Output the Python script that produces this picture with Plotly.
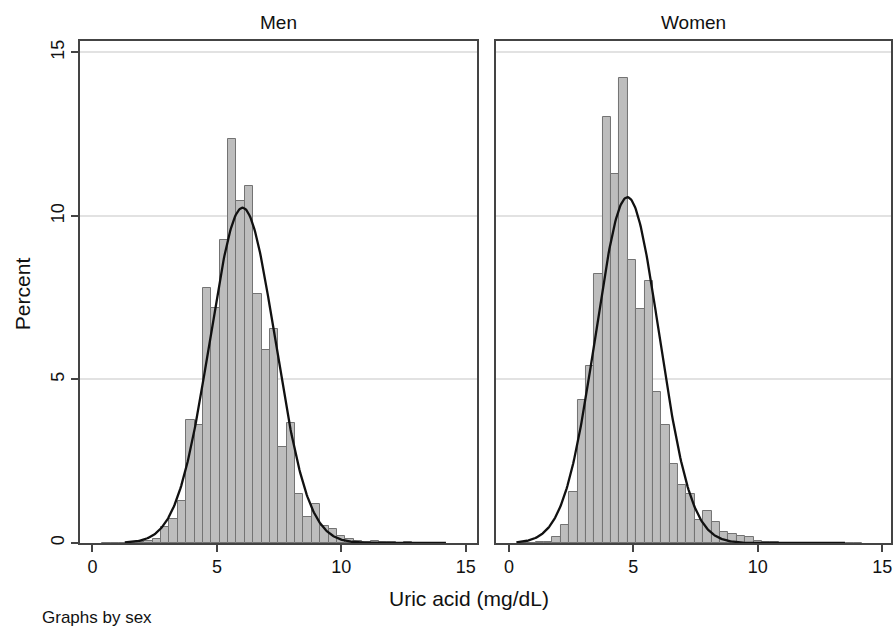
import numpy as np
import plotly.graph_objects as go

# ---------------- data ----------------
panel_titles = ["Men", "Women"]
x_title = "Uric acid (mg/dL)"
y_title = "Percent"
note_text = "Graphs by sex"
x_ticks = [0, 5, 10, 15]
y_ticks = [0, 5, 10, 15]

bin_start = 0.4
bin_width = 0.3366

men_pct = [0, 0, 0.01, 0.02, 0.03, 0.05, 0.11, 0.49, 0.74, 1.29,
           3.77, 3.61, 7.80, 7.20, 9.25, 12.34, 10.47, 10.93, 7.61, 5.90,
           6.54, 2.94, 3.66, 1.49, 0.81, 1.18, 0.52, 0.42, 0.21, 0.11,
           0.06, 0.03, 0.05, 0.02, 0.02, 0.01, 0.02, 0.01, 0.01, 0, 0.01]
women_pct = [0.01, 0, 0.02, 0.04, 0.17, 0.56, 1.56, 4.37, 5.41, 8.23,
             13.04, 11.28, 14.22, 8.65, 7.15, 8.02, 4.63, 3.60, 2.43, 1.76,
             1.50, 0.70, 0.98, 0.63, 0.35, 0.28, 0.22, 0.17, 0.05, 0.04,
             0.02, 0.01, 0.01, 0, 0.01, 0, 0, 0, 0, 0, 0]

men_mean, men_sd = 6.03, 1.31
women_mean, women_sd = 4.76, 1.27
men_curve_range = (1.3, 14.2)
women_curve_range = (0.3, 13.5)

# ---------------- figure ----------------
FONT = "Liberation Sans, Arial, Helvetica, sans-serif"
BAR_FILL = "#bdbdbd"
BAR_LINE = "#737373"
FRAME = "#444444"
GRID = "#e2e2e2"

W, H = 894, 629
ML, MR, MT, MB = 80, 1, 41, 86
plot_w = W - ML - MR
dom1 = [0, (478 - ML) / plot_w]
dom2 = [(497 - ML) / plot_w, 1]


def centers(n):
    return [bin_start + (i + 0.5) * bin_width for i in range(n)]


def normal_curve(mean, sd, rng):
    xs = np.linspace(rng[0], rng[1], 400)
    ys = 100 * bin_width * np.exp(-0.5 * ((xs - mean) / sd) ** 2) / (sd * np.sqrt(2 * np.pi))
    return xs, ys


fig = go.Figure()
for k, (vals, mean, sd, rng) in enumerate([
        (men_pct, men_mean, men_sd, men_curve_range),
        (women_pct, women_mean, women_sd, women_curve_range)]):
    xa = "x" if k == 0 else "x2"
    ya = "y" if k == 0 else "y2"
    fig.add_trace(go.Bar(
        x=centers(len(vals)), y=vals, width=bin_width,
        marker=dict(color=BAR_FILL, line=dict(color=BAR_LINE, width=1)),
        xaxis=xa, yaxis=ya, showlegend=False, hoverinfo="skip"))
    cx, cy = normal_curve(mean, sd, rng)
    fig.add_trace(go.Scatter(
        x=cx, y=cy, mode="lines", line=dict(color="#111111", width=2.3),
        xaxis=xa, yaxis=ya, showlegend=False, hoverinfo="skip"))

axis_common = dict(showline=True, mirror=True, linecolor=FRAME, linewidth=1.5,
                   zeroline=False, tickfont=dict(family=FONT, size=18, color="#111111"))

fig.update_layout(
    width=W, height=H,
    margin=dict(l=ML, r=MR, t=MT, b=MB),
    paper_bgcolor="white", plot_bgcolor="white",
    bargap=0,
    font=dict(family=FONT, color="#111111"),
    xaxis=dict(domain=dom1, range=[-0.5, 15.45], tickvals=x_ticks,
               ticks="outside", ticklen=7, tickcolor=FRAME, tickwidth=1.5,
               showgrid=False, anchor="y", **axis_common),
    xaxis2=dict(domain=dom2, range=[-0.52, 15.35], tickvals=x_ticks,
                ticks="outside", ticklen=7, tickcolor=FRAME, tickwidth=1.5,
                showgrid=False, anchor="y2", **axis_common),
    yaxis=dict(range=[0, 15.35], tickvals=y_ticks, tickangle=-90,
               ticks="outside", ticklen=7, tickcolor=FRAME, tickwidth=1.5,
               showgrid=True, gridcolor=GRID, gridwidth=1.5,
               anchor="x", **axis_common),
    yaxis2=dict(range=[0, 15.35], tickvals=y_ticks, showticklabels=False,
                ticks="", showgrid=True, gridcolor=GRID, gridwidth=1.5,
                anchor="x2", **axis_common),
)

annotations = [
    dict(text=panel_titles[0], x=(dom1[0] + dom1[1]) / 2, y=1, xref="paper", yref="paper",
         xanchor="center", yanchor="middle", yshift=19, showarrow=False,
         font=dict(family=FONT, size=19, color="#111111")),
    dict(text=panel_titles[1], x=(dom2[0] + dom2[1]) / 2, y=1, xref="paper", yref="paper",
         xanchor="center", yanchor="middle", yshift=19, showarrow=False,
         font=dict(family=FONT, size=19, color="#111111")),
    dict(text=x_title, x=(470 - ML) / plot_w, y=0, xref="paper", yref="paper",
         xanchor="center", yanchor="middle", yshift=-55, showarrow=False,
         font=dict(family=FONT, size=21, color="#111111")),
    dict(text=y_title, x=(22 - ML) / plot_w, y=(543 - 294) / (543 - 41), xref="paper", yref="paper",
         xanchor="center", yanchor="middle", textangle=-90, showarrow=False,
         font=dict(family=FONT, size=21, color="#111111")),
    dict(text=note_text, x=(40 - ML) / plot_w, y=0, xref="paper", yref="paper",
         xanchor="left", yanchor="middle", yshift=-74, showarrow=False,
         font=dict(family=FONT, size=17, color="#111111")),
]
fig.update_layout(annotations=annotations)

fig.write_html("out.html",
               config={"displayModeBar": False},
               post_script="document.body.style.margin='0';document.body.style.overflow='hidden';")
